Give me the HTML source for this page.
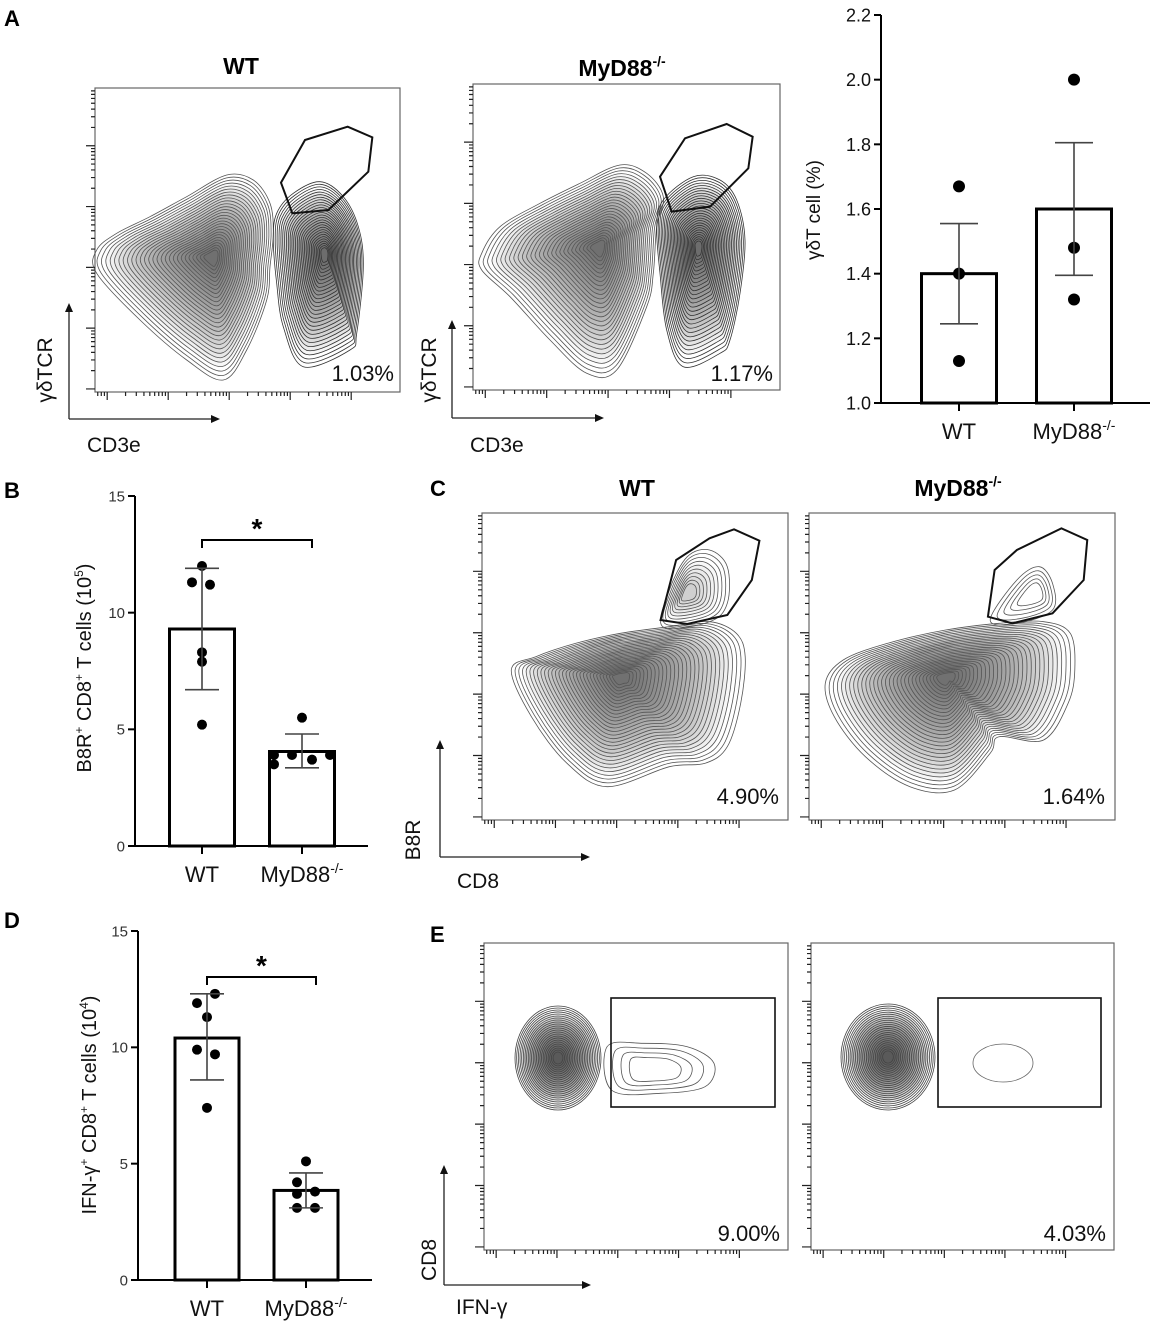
<!DOCTYPE html>
<html><head><meta charset="utf-8"><style>
html,body{margin:0;padding:0;background:#fff;}
svg{display:block;font-family:"Liberation Sans",Arial,sans-serif;}
</style></head><body>
<svg id="fig" width="1152" height="1324" viewBox="0 0 1152 1324" xmlns="http://www.w3.org/2000/svg">
<g font-weight="bold" font-size="22" fill="#000">
<text x="4" y="26">A</text>
<text x="4" y="498">B</text>
<text x="430" y="496">C</text>
<text x="4" y="928">D</text>
<text x="430" y="942">E</text>
</g>
<g id="flow"></g>
<g id="bars"></g>
</svg>
<script>
// ===== Bar chart data =====
const catsA = ["WT", "MyD88"];
const meanA = [1.40, 1.60];
const errLoA = [1.245, 1.395];
const errHiA = [1.555, 1.805];
const ptsA_WT = [1.67, 1.40, 1.13];
const ptsA_KO = [2.00, 1.48, 1.32];
const ticksA = [1.0, 1.2, 1.4, 1.6, 1.8, 2.0, 2.2];

const catsB = ["WT", "MyD88"];
const meanB = [9.3, 4.05];
const errLoB = [6.7, 3.35];
const errHiB = [11.9, 4.8];
const ptsB_WT = [12.0, 11.3, 11.2, 8.3, 7.9, 5.2];
const ptsB_KO = [5.5, 3.9, 3.9, 3.7, 3.9, 3.5];
const ticksB = [0, 5, 10, 15];

const catsD = ["WT", "MyD88"];
const meanD = [10.4, 3.85];
const errLoD = [8.6, 3.1];
const errHiD = [12.3, 4.6];
const ptsD_WT = [12.3, 11.9, 11.3, 9.9, 9.7, 7.4];
const ptsD_KO = [5.1, 4.2, 3.8, 3.7, 3.1, 3.1];
const ticksD = [0, 5, 10, 15];

const NS = "http://www.w3.org/2000/svg";
function mk(parent, tag, attrs, text) {
  const e = document.createElementNS(NS, tag);
  for (const k in attrs) e.setAttribute(k, attrs[k]);
  if (text !== undefined) e.textContent = text;
  parent.appendChild(e);
  return e;
}

function barChart(cfg) {
  const g = mk(document.getElementById('bars'), 'g', {});
  
  
  const y = v => cfg.y0 - (v - cfg.vmin) / (cfg.vmax - cfg.vmin) * (cfg.y0 - cfg.yTop);
  const ax = mk(g, 'line', {x1: cfg.ax, y1: y(cfg.vmax), x2: cfg.ax, y2: cfg.y0, stroke: '#000', 'stroke-width': 2});
  
  
  const xa = mk(g, 'line', {x1: cfg.ax, y1: cfg.y0, x2: cfg.xEnd, y2: cfg.y0, stroke: '#000', 'stroke-width': 2});
  
  
  cfg.ticks.forEach(t => {
    mk(g, 'line', {x1: cfg.ax - 7, y1: y(t), x2: cfg.ax, y2: y(t), stroke: '#000', 'stroke-width': 2});
    const tl = mk(g, 'text', {x: cfg.ax - 10, y: y(t) + cfg.tickFs * 0.36, 'text-anchor': 'end', 'font-size': cfg.tickFs, fill: cfg.tickColor}, cfg.tickFmt(t));
    
    
  });
  const cats = cfg.cats;
  cats.forEach((c, i) => {
    const cx = cfg.centers[i];
    const r = mk(g, 'rect', {x: cx - cfg.bw / 2, y: y(cfg.means[i]), width: cfg.bw, height: cfg.y0 - y(cfg.means[i]), fill: 'none', stroke: '#000', 'stroke-width': 3});
    
    
    mk(g, 'line', {x1: cx, y1: cfg.y0, x2: cx, y2: cfg.y0 + 8, stroke: '#000', 'stroke-width': 2});
    const pts = cfg.pts[i];
    pts.forEach((p, j) => {
      const dx = cfg.jit[i][j] || 0;
      const d = mk(g, 'circle', {cx: cx + dx, cy: y(p), r: cfg.dotR, fill: '#000'});
      
      
    });
    const eb = mk(g, 'path', {d: `M${cx},${y(cfg.lo[i])}V${y(cfg.hi[i])}M${cx - cfg.cap},${y(cfg.lo[i])}h${2 * cfg.cap}M${cx - cfg.cap},${y(cfg.hi[i])}h${2 * cfg.cap}`, stroke: '#444', 'stroke-width': 1.6, fill: 'none'});
    
    
    const lab = mk(g, 'text', {x: cx, y: cfg.y0 + 36, 'text-anchor': 'middle', 'font-size': 22, fill: '#111'});
    
    
    if (c === 'WT') lab.textContent = 'WT';
    else { lab.textContent = 'MyD88'; mk(lab, 'tspan', {'font-size': 14, dy: -9}, '-/-'); }
  });
  if (cfg.sig) {
    const b = mk(g, 'path', {d: `M${cfg.centers[0]},${cfg.sig.y + 8}V${cfg.sig.y}H${cfg.centers[1] + 10}V${cfg.sig.y + 8}`, stroke: '#000', 'stroke-width': 2, fill: 'none'});
    
    
    const s = mk(g, 'text', {x: (cfg.centers[0] + cfg.centers[1] + 10) / 2, y: cfg.sig.y - 2, 'text-anchor': 'middle', 'font-size': 28, 'font-weight': 'bold'}, '*');
    
    
  }
  const t = mk(g, 'text', {transform: `translate(${cfg.titleX},${cfg.titleY}) rotate(-90)`, 'text-anchor': 'middle', 'font-size': cfg.titleFs, fill: '#111'});
  
  
  cfg.title(t);
}

barChart({name: 'chart-gd-t-cells', cats: catsA, means: meanA, lo: errLoA, hi: errHiA, pts: [ptsA_WT, ptsA_KO],
  jit: [[0, 0, 0], [0, 0, 0]], ticks: ticksA, vmin: 1.0, vmax: 2.2, y0: 403, yTop: 15, ax: 881, xEnd: 1150,
  centers: [959, 1074], bw: 75, cap: 19, dotR: 6, tickFs: 18, tickColor: '#111', tickFmt: t => t.toFixed(1),
  titleX: 820, titleY: 210, titleFs: 19,
  title: t => { t.textContent = 'γδT cell (%)'; }});

barChart({name: 'chart-b8r-cd8', cats: catsB, means: meanB, lo: errLoB, hi: errHiB, pts: [ptsB_WT, ptsB_KO],
  jit: [[0, -10, 8, 0, 0, 0], [0, -28, -10, 10, 28, -28]], ticks: ticksB, vmin: 0, vmax: 15, y0: 846, yTop: 496, ax: 135, xEnd: 368,
  centers: [202, 302], bw: 65, cap: 17, dotR: 5, tickFs: 15, tickColor: '#333', tickFmt: t => String(t),
  sig: {y: 540}, titleX: 91, titleY: 668, titleFs: 20,
  title: t => { t.textContent = 'B8R'; mk(t, 'tspan', {'font-size': 12, dy: -8}, '+'); mk(t, 'tspan', {dy: 8}, ' CD8'); mk(t, 'tspan', {'font-size': 12, dy: -8}, '+'); mk(t, 'tspan', {dy: 8}, ' T cells (10'); mk(t, 'tspan', {'font-size': 12, dy: -8}, '5'); mk(t, 'tspan', {dy: 8}, ')'); }});

barChart({name: 'chart-ifng-cd8', cats: catsD, means: meanD, lo: errLoD, hi: errHiD, pts: [ptsD_WT, ptsD_KO],
  jit: [[8, -10, 0, -10, 8, 0], [0, -9, 9, -9, -9, 9]], ticks: ticksD, vmin: 0, vmax: 15, y0: 1280, yTop: 931, ax: 138, xEnd: 372,
  centers: [207, 306], bw: 64, cap: 17, dotR: 5, tickFs: 15, tickColor: '#333', tickFmt: t => String(t),
  sig: {y: 977}, titleX: 96, titleY: 1105, titleFs: 20,
  title: t => { t.textContent = 'IFN-γ'; mk(t, 'tspan', {'font-size': 12, dy: -8}, '+'); mk(t, 'tspan', {dy: 8}, ' CD8'); mk(t, 'tspan', {'font-size': 12, dy: -8}, '+'); mk(t, 'tspan', {dy: 8}, ' T cells (10'); mk(t, 'tspan', {'font-size': 12, dy: -8}, '4'); mk(t, 'tspan', {dy: 8}, ')'); }});

// ===== Flow cytometry plots =====
const flow = document.getElementById('flow');
function smooth(pts) {
  const n = pts.length; let d = `M${pts[0][0].toFixed(1)},${pts[0][1].toFixed(1)}`;
  for (let i = 0; i < n; i++) {
    const p0 = pts[(i - 1 + n) % n], p1 = pts[i], p2 = pts[(i + 1) % n], p3 = pts[(i + 2) % n];
    const c1 = [p1[0] + (p2[0] - p0[0]) / 6, p1[1] + (p2[1] - p0[1]) / 6];
    const c2 = [p2[0] - (p3[0] - p1[0]) / 6, p2[1] - (p3[1] - p1[1]) / 6];
    d += `C${c1[0].toFixed(1)},${c1[1].toFixed(1)} ${c2[0].toFixed(1)},${c2[1].toFixed(1)} ${p2[0].toFixed(1)},${p2[1].toFixed(1)}`;
  }
  return d + 'Z';
}
function contour(g, outline, center, levels, tf, color, shade) {
  const P = outline.map(tf), C = tf(center);
  let d = '';
  const stop = levels - 2;
  for (let k = 0; k < stop; k++) {
    const s = Math.pow(1 - k / levels, 1.1);
    const pd = smooth(P.map(p => [C[0] + s * (p[0] - C[0]), C[1] + s * (p[1] - C[1])]));
    d += pd;
    if (shade && k > 2) mk(g, 'path', {d: pd, fill: 'rgba(40,40,40,' + shade + ')', stroke: 'none'});
  }
  mk(g, 'path', {d: d, fill: 'none', stroke: color || '#555', 'stroke-width': 0.8});
}
function ellipseContour(g, cx, cy, rx, ry, levels, color, shade) {
  let d = '';
  const stop = levels > 3 ? levels - 2 : levels;
  for (let k = 0; k < stop; k++) {
    const s = 1 - k / levels;
    const pd = `M${cx - rx * s},${cy}a${rx * s},${ry * s} 0 1 0 ${2 * rx * s},0a${rx * s},${ry * s} 0 1 0 ${-2 * rx * s},0Z`;
    d += pd;
    if (shade && k > 2) mk(g, 'path', {d: pd, fill: 'rgba(40,40,40,' + shade + ')', stroke: 'none'});
  }
  mk(g, 'path', {d: d, fill: 'none', stroke: color || '#444', 'stroke-width': 0.8});
}
function flowBox(name, x1, y1, x2, y2, pct, pctX, pctY) {
  const g = mk(flow, 'g', {});
  
  
  mk(g, 'rect', {x: x1, y: y1, width: x2 - x1, height: y2 - y1, fill: 'none', stroke: '#666', 'stroke-width': 1.2});
  let d = '';
  const h = y2 - y1, w = x2 - x1;
  for (let m = 0; m < 5; m++) {
    const yy = y2 - h * (m + 0.05) / 5;
    d += `M${x1 - 9},${yy}h9`;
    for (let k = 1; k < 9; k++) { const yk = yy - h / 5 * Math.log10(k + 1); if (yk > y1) d += `M${x1 - 4},${yk}h4`; }
  }
  for (let m = 0; m < 5; m++) {
    const xx = x1 + w * (m + 0.2) / 5;
    d += `M${xx},${y2}v8`;
    for (let k = 1; k < 9; k++) { const xk = xx - w / 5 * (1 - Math.log10(k + 1)); if (xk > x1) d += `M${xk},${y2}v4`; }
  }
  mk(g, 'path', {d: d, stroke: '#222', 'stroke-width': 1.2, fill: 'none'});
  const t = mk(g, 'text', {x: pctX, y: pctY, 'text-anchor': 'end', 'font-size': 22, fill: '#111'}, pct);
  
  
  return g;
}
function axisArrows(x, y, topY, rightX, ylab, xlab, ylx, yly, xlx, xly) {
  const g = mk(flow, 'g', {});
  
  
  mk(g, 'path', {d: `M${x},${y}V${topY + 8}M${x},${y}H${rightX - 8}`, stroke: '#222', 'stroke-width': 1.3, fill: 'none'});
  mk(g, 'path', {d: `M${x - 4},${topY + 9}L${x},${topY}L${x + 4},${topY + 9}Z M${rightX - 9},${y - 4}L${rightX},${y}L${rightX - 9},${y + 4}Z`, fill: '#111'});
  const a = mk(g, 'text', {transform: `translate(${ylx},${yly}) rotate(-90)`, 'text-anchor': 'middle', 'font-size': 21, fill: '#111'}, ylab);
  
  
  const b = mk(g, 'text', {x: xlx, y: xly, 'font-size': 21, fill: '#111'}, xlab);
  
  
}
function gate(g, pts, tf) {
  const P = pts.map(tf);
  const gp = mk(g, 'polygon', {points: P.map(p => p.join(',')).join(' '), fill: 'none', stroke: '#111', 'stroke-width': 2});
  
  
}
function title(x, y, txt, sup) {
  const t = mk(flow, 'text', {x: x, y: y, 'text-anchor': 'middle', 'font-size': 23, 'font-weight': 'bold'}, txt);
  
  
  if (sup) mk(t, 'tspan', {'font-size': 14, dy: -10}, sup);
}

// Panel A WT
const tA = p => [p[0] / 3, p[1] / 3];
title(241, 74, 'WT');
let g = flowBox('flow-a-wt', 95, 88, 400, 392, '1.03%', 394, 381);
contour(g, [[290,750],[350,700],[450,650],[560,590],[680,525],[760,540],[810,610],[820,700],[810,800],[800,900],[740,1050],[670,1140],[560,1080],[420,960],[290,820]], [640,770], 30, tA, '#555', 0.035);
contour(g, [[830,640],[880,580],[960,545],[1030,590],[1075,680],[1090,800],[1070,1000],[1050,1050],[910,1100],[850,980],[830,850],[820,720]], [975,760], 30, tA, '#333', 0.045);
gate(g, [[843,548],[915,420],[1043,380],[1117,412],[1105,515],[985,630],[877,640]], tA);
axisArrows(69, 419, 303, 220, 'γδTCR', 'CD3e', 52, 370, 87, 452);

// Panel A MyD88
const tA2 = p => [400 + p[0] / 3, 40 + p[1] / 3];
title(622, 76, 'MyD88', '-/-');
g = flowBox('flow-a-myd88', 473, 84, 780, 390, '1.17%', 773, 381);
contour(g, [[245,640],[300,560],[420,490],[540,430],[660,375],[740,400],[790,470],[770,560],[760,700],[740,800],[650,990],[560,1000],[450,900],[330,770],[245,690]], [600,620], 30, tA2, '#555', 0.035);
contour(g, [[790,480],[880,410],[960,420],[1010,480],[1035,600],[1020,760],[990,900],[960,940],[850,980],[800,870],[780,700],[770,560]], [895,620], 30, tA2, '#333', 0.045);
gate(g, [[780,410],[855,295],[980,252],[1058,290],[1045,385],[930,500],[815,515]], tA2);
axisArrows(452, 418, 320, 604, 'γδTCR', 'CD3e', 436, 370, 470, 452);

// Panel C
const tC = p => [420 + p[0] / 2.245, 470 + p[1] / 3];
title(637, 496, 'WT');
title(958, 496, 'MyD88', '-/-');
g = flowBox('flow-c-wt', 482, 513, 788, 820, '4.90%', 779, 804);
contour(g, [[205,600],[260,560],[350,520],[450,490],[560,470],[650,455],[710,490],[730,560],[720,700],[690,830],[640,880],[560,890],[420,950],[330,880],[250,740]], [450,620], 32, tC, '#555', 0.04);
contour(g, [[545,470],[560,360],[600,260],[650,240],[690,290],[690,400],[650,455]], [600,370], 12, tC, '#555', 0.03);
gate(g, [[540,450],[575,270],[650,205],[705,178],[762,212],[745,330],[690,435],[600,462]], tC);
g = flowBox('flow-c-myd88', 809, 513, 1115, 820, '1.64%', 1105, 804);
contour(g, [[910,640],[950,570],[1050,520],[1180,480],[1300,460],[1400,455],[1460,490],[1470,600],[1455,700],[1400,810],[1300,800],[1280,850],[1200,960],[1100,950],[1000,860],[930,740]], [1180,620], 32, tC, '#555', 0.04);
contour(g, [[1280,450],[1340,330],[1390,290],[1420,340],[1420,420],[1340,460]], [1380,370], 7, tC);
gate(g, [[1275,440],[1290,300],[1340,240],[1440,175],[1498,210],[1490,330],[1420,430],[1330,460]], tC);
axisArrows(440, 857, 740, 590, 'B8R', 'CD8', 420, 840, 457, 888);

// Panel E
g = flowBox('flow-e-wt', 484, 943, 788, 1250, '9.00%', 780, 1241);
ellipseContour(g, 558, 1058, 43, 52, 26, '#444', 0.06);
contour(g, [[420,440],[500,430],[600,440],[660,490],[640,560],[540,580],[430,570]], [520,510], 6, p => [420 + p[0] / 2.245, 900 + p[1] / 3]);
let gr = mk(g, 'rect', {x: 611, y: 998, width: 164, height: 109, fill: 'none', stroke: '#111', 'stroke-width': 1.6});


g = flowBox('flow-e-myd88', 811, 943, 1114, 1250, '4.03%', 1106, 1241);
ellipseContour(g, 888, 1057, 47, 53, 26, '#444', 0.06);
ellipseContour(g, 1003, 1063, 30, 19, 1, '#666');
gr = mk(g, 'rect', {x: 938, y: 998, width: 163, height: 109, fill: 'none', stroke: '#111', 'stroke-width': 1.6});


axisArrows(444, 1285, 1165, 591, 'CD8', 'IFN-γ', 436, 1260, 456, 1314);
</script>
</body></html>
